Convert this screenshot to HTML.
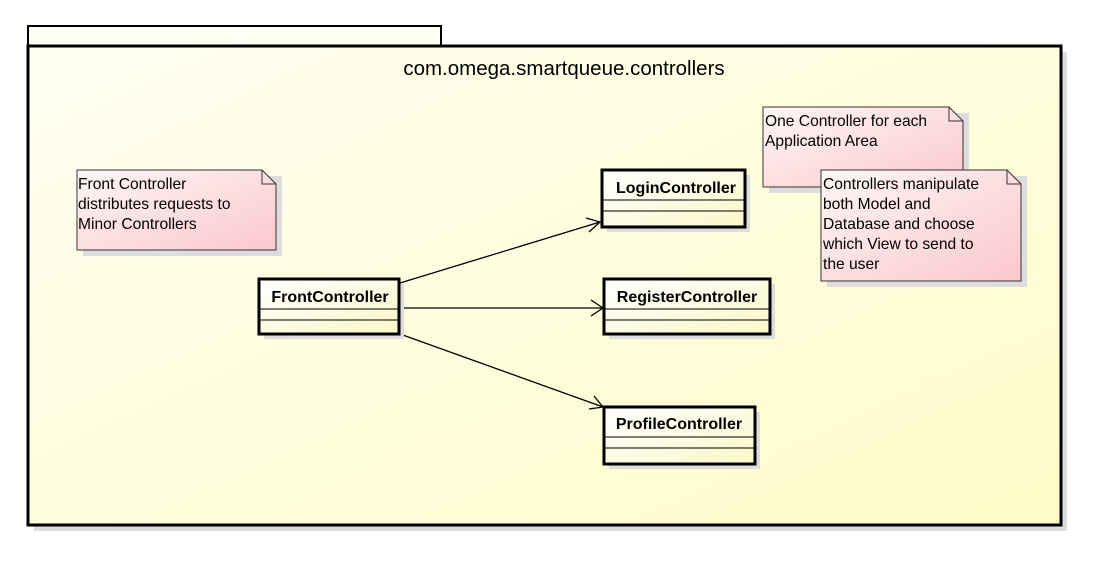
<!DOCTYPE html>
<html><head><style>body{margin:0;background:#fff}svg{display:block}text{font-family:"Liberation Sans",Arial,sans-serif}</style></head><body>
<svg width="1099" height="567" viewBox="0 0 1099 567" xmlns="http://www.w3.org/2000/svg">
<defs>
<linearGradient id="pk" x1="0" y1="0" x2="1" y2="1"><stop offset="0" stop-color="#fffff2"/><stop offset="1" stop-color="#fdfbc8"/></linearGradient>
<linearGradient id="cl" x1="0" y1="0" x2="1" y2="1"><stop offset="0" stop-color="#ffffff"/><stop offset="1" stop-color="#fbf7c8"/></linearGradient>
<linearGradient id="nt" x1="0" y1="0" x2="1" y2="1"><stop offset="0" stop-color="#fff6f6"/><stop offset="1" stop-color="#fbc8cc"/></linearGradient>
</defs>
<rect x="34" y="52" width="1033" height="479" fill="#ddd"/>
<rect x="28" y="26" width="413" height="20" fill="#fffff4" stroke="#000" stroke-width="2"/>
<rect x="28" y="46" width="1033" height="479" fill="url(#pk)" stroke="#000" stroke-width="3"/>
<text x="564" y="75" font-size="20.5" text-anchor="middle">com.omega.smartqueue.controllers</text>

<g font-size="15.6">
<path d="M83 176H282V256H83Z" fill="#ddd"/>
<path d="M77 170H262L276 184V250H77Z" fill="url(#nt)" stroke="#333"/>
<path d="M262 170V184H276" fill="none" stroke="#333"/>
<text x="78" y="189">Front Controller</text><text x="78" y="209">distributes requests to</text><text x="78" y="229">Minor Controllers</text>

<path d="M769 113H969V193H769Z" fill="#ddd"/>
<path d="M763 107H949L963 121V187H763Z" fill="url(#nt)" stroke="#333"/>
<path d="M949 107V121H963" fill="none" stroke="#333"/>
<text x="765" y="126">One Controller for each</text><text x="765" y="146">Application Area</text>

<path d="M827 176H1027V287H827Z" fill="#ddd"/>
<path d="M821 170H1007L1021 184V281H821Z" fill="url(#nt)" stroke="#333"/>
<path d="M1007 170V184H1021" fill="none" stroke="#333"/>
<text x="823" y="189">Controllers manipulate</text><text x="823" y="209">both Model and</text><text x="823" y="229">Database and choose</text><text x="823" y="249">which View to send to</text><text x="823" y="269">the user</text>
</g>

<g stroke="#000" stroke-width="1.3" fill="none">
<path d="M400 283L600 222M586 218L600 222L589 232"/>
<path d="M400 308L603 308M591 300L603 308L591 316"/>
<path d="M400 334L603 407M594 396L603 407L589 409"/>
</g>

<g font-size="16" font-weight="bold" text-anchor="middle">
<rect x="264" y="284" width="140" height="55" fill="#ddd"/>
<rect x="259" y="279" width="140" height="55" fill="url(#cl)" stroke="#000" stroke-width="3"/>
<path d="M259 309H399M259 320H399" stroke="#000"/>
<text x="330" y="302">FrontController</text>

<rect x="607" y="175" width="143" height="57" fill="#ddd"/>
<rect x="602" y="170" width="143" height="57" fill="url(#cl)" stroke="#000" stroke-width="3"/>
<path d="M602 200H745M602 211H745" stroke="#000"/>
<text x="676" y="193">LoginController</text>

<rect x="609" y="284" width="166" height="55" fill="#ddd"/>
<rect x="604" y="279" width="166" height="55" fill="url(#cl)" stroke="#000" stroke-width="3"/>
<path d="M604 309H770M604 320H770" stroke="#000"/>
<text x="687" y="302">RegisterController</text>

<rect x="609" y="412" width="151" height="57" fill="#ddd"/>
<rect x="604" y="407" width="151" height="57" fill="url(#cl)" stroke="#000" stroke-width="3"/>
<path d="M604 437H755M604 448H755" stroke="#000"/>
<text x="679" y="429">ProfileController</text>
</g>
</svg>
</body></html>
